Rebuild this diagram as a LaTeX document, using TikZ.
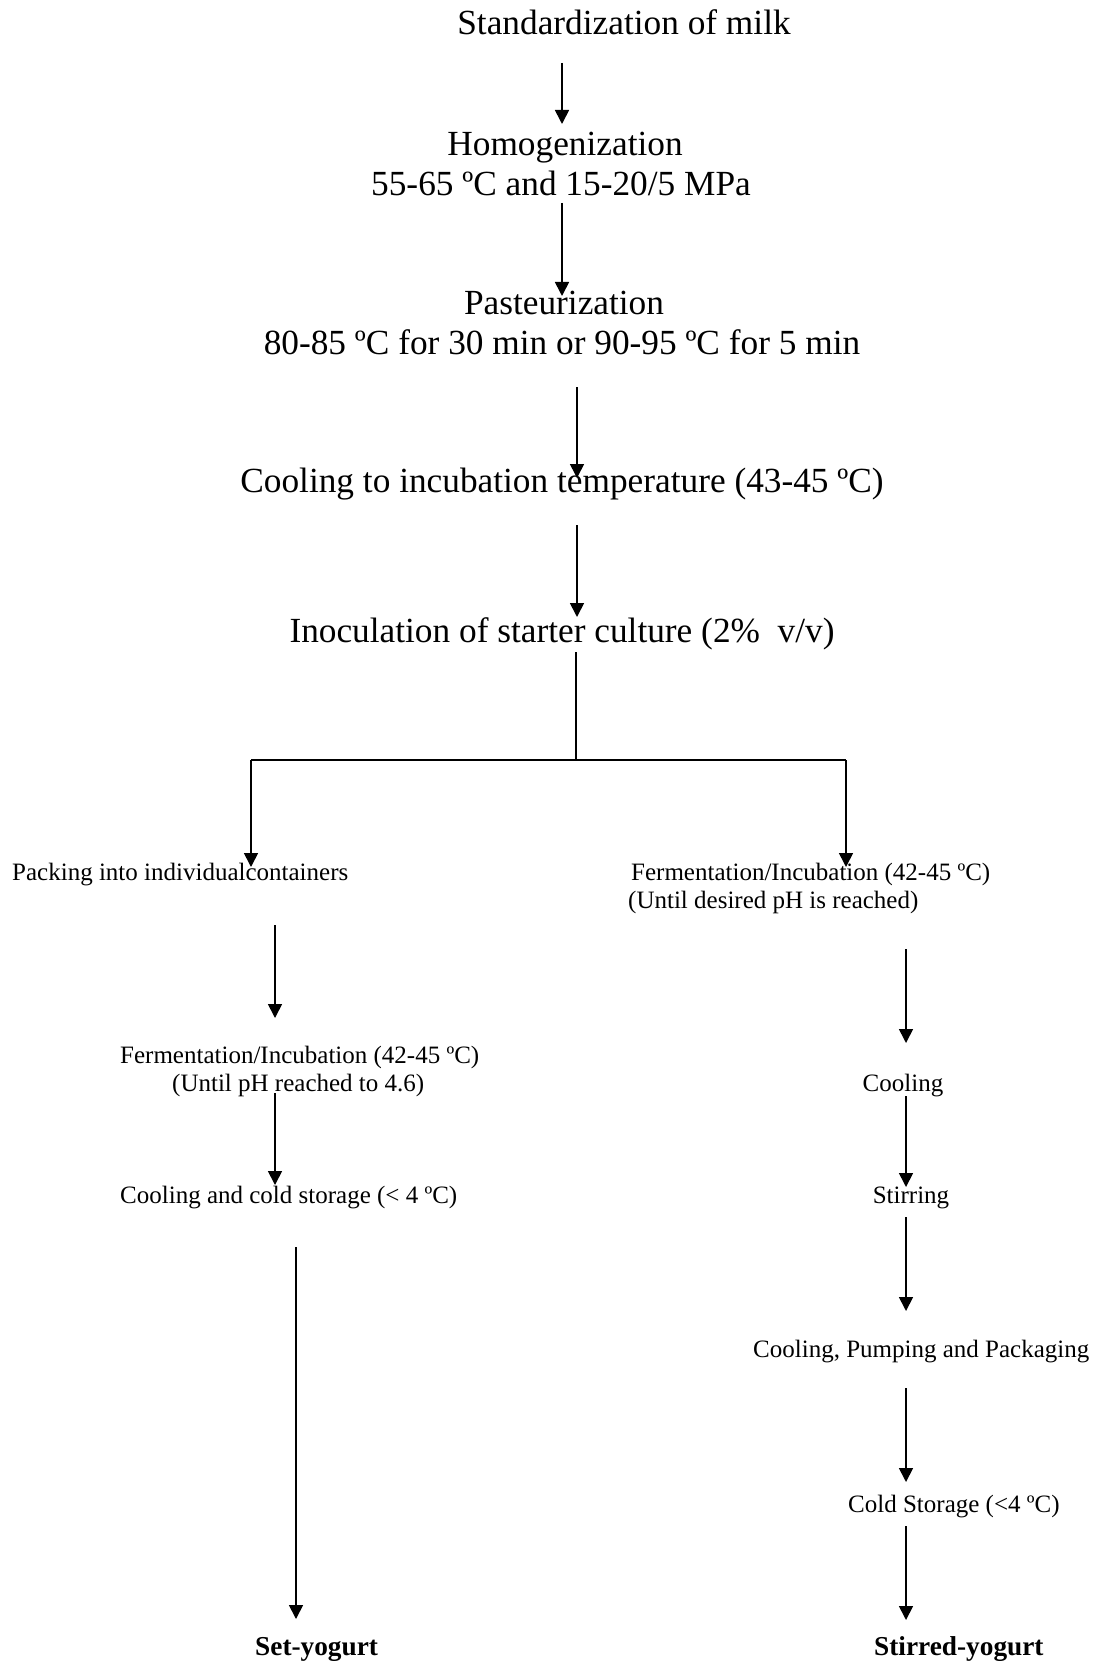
\documentclass[tikz,border=0pt]{standalone}
\usepackage{fontspec}
\setmainfont{Liberation Serif}
\usetikzlibrary{arrows.meta}
\begin{document}
\begin{tikzpicture}[x=1pt,y=-1pt,
  big/.style={font=\fontsize{35.3}{41}\selectfont, inner sep=0pt, anchor=base},
  small/.style={font=\fontsize{25}{29}\selectfont, inner sep=0pt, anchor=base},
  smallw/.style={small, anchor=base west},
  result/.style={font=\fontsize{27.3}{31}\selectfont\bfseries, inner sep=0pt, anchor=base west},
  flow/.style={line width=1.7pt, -{Triangle[width=14pt,length=14pt]}},
  joint/.style={line width=1.7pt}]
\useasboundingbox (0,0) rectangle (1097,1661);
% texts
\node[big] (stdz) at (624,35) {Standardization of milk};
\node[big] (homog) at (565,156) {Homogenization};
\node[big] (homogc) at (561,196) {55-65 ºC and 15-20/5 MPa};
\node[big] (past) at (564,315) {Pasteurization};
\node[big] (pastc) at (562,354) {80-85 ºC for 30 min or 90-95 ºC for 5 min};
\node[big] (cool) at (562,492) {Cooling to incubation temperature (43-45 ºC)};
\node[big] (inoc) at (562,642) {Inoculation of starter culture (2\%\ \ v/v)};
\node[smallw] (pack) at (12,880) {Packing into individualcontainers};
\node[smallw] (fermR) at (631,880) {Fermentation/Incubation (42-45 ºC)};
\node[smallw] (fermRc) at (628,908) {(Until desired pH is reached)};
\node[smallw] (fermL) at (120,1063) {Fermentation/Incubation (42-45 ºC)};
\node[smallw] (fermLc) at (172,1091) {(Until pH reached to 4.6)};
\node[smallw] (coldL) at (120,1203) {Cooling and cold storage (< 4 ºC)};
\node[small] (coolR) at (903,1091) {Cooling};
\node[small] (stir) at (911,1203) {Stirring};
\node[smallw] (cpp) at (753,1357) {Cooling, Pumping and Packaging};
\node[smallw] (coldR) at (848,1512) {Cold Storage (<4 ºC)};
\node[result] (set) at (255,1655) {Set-yogurt};
\node[result] (stirred) at (874,1655) {Stirred-yogurt};
% connector end points
\coordinate (a1s) at (562,63);   \coordinate (a1e) at (562,124);
\coordinate (a2s) at (562,203);  \coordinate (a2e) at (562,296);
\coordinate (a3s) at (577,387);  \coordinate (a3e) at (577,478);
\coordinate (a4s) at (577,525);  \coordinate (a4e) at (577,617);
\coordinate (l5s) at (576,652);  \coordinate (hub) at (576,760);
\coordinate (hL) at (251,760);   \coordinate (hR) at (846,760);
\coordinate (a6e) at (251,867);  \coordinate (a7e) at (846,867);
\coordinate (a8s) at (275,925);  \coordinate (a8e) at (275,1018);
\coordinate (a9s) at (275,1093); \coordinate (a9e) at (275,1185);
\coordinate (a10s) at (296,1247); \coordinate (a10e) at (296,1619);
\coordinate (a11s) at (906,949); \coordinate (a11e) at (906,1043);
\coordinate (a12s) at (906,1096); \coordinate (a12e) at (906,1187);
\coordinate (a13s) at (906,1217); \coordinate (a13e) at (906,1311);
\coordinate (a14s) at (906,1388); \coordinate (a14e) at (906,1482);
\coordinate (a15s) at (906,1526); \coordinate (a15e) at (906,1620);
% connectors
\draw[flow] (a1s) -- (a1e);
\draw[flow] (a2s) -- (a2e);
\draw[flow] (a3s) -- (a3e);
\draw[flow] (a4s) -- (a4e);
\draw[joint] (l5s) -- (hub);
\draw[joint] (hL) -- (hR);
\draw[flow] (hL) -- (a6e);
\draw[flow] (hR) -- (a7e);
\draw[flow] (a8s) -- (a8e);
\draw[flow] (a9s) -- (a9e);
\draw[flow] (a10s) -- (a10e);
\draw[flow] (a11s) -- (a11e);
\draw[flow] (a12s) -- (a12e);
\draw[flow] (a13s) -- (a13e);
\draw[flow] (a14s) -- (a14e);
\draw[flow] (a15s) -- (a15e);
\end{tikzpicture}
\end{document}
